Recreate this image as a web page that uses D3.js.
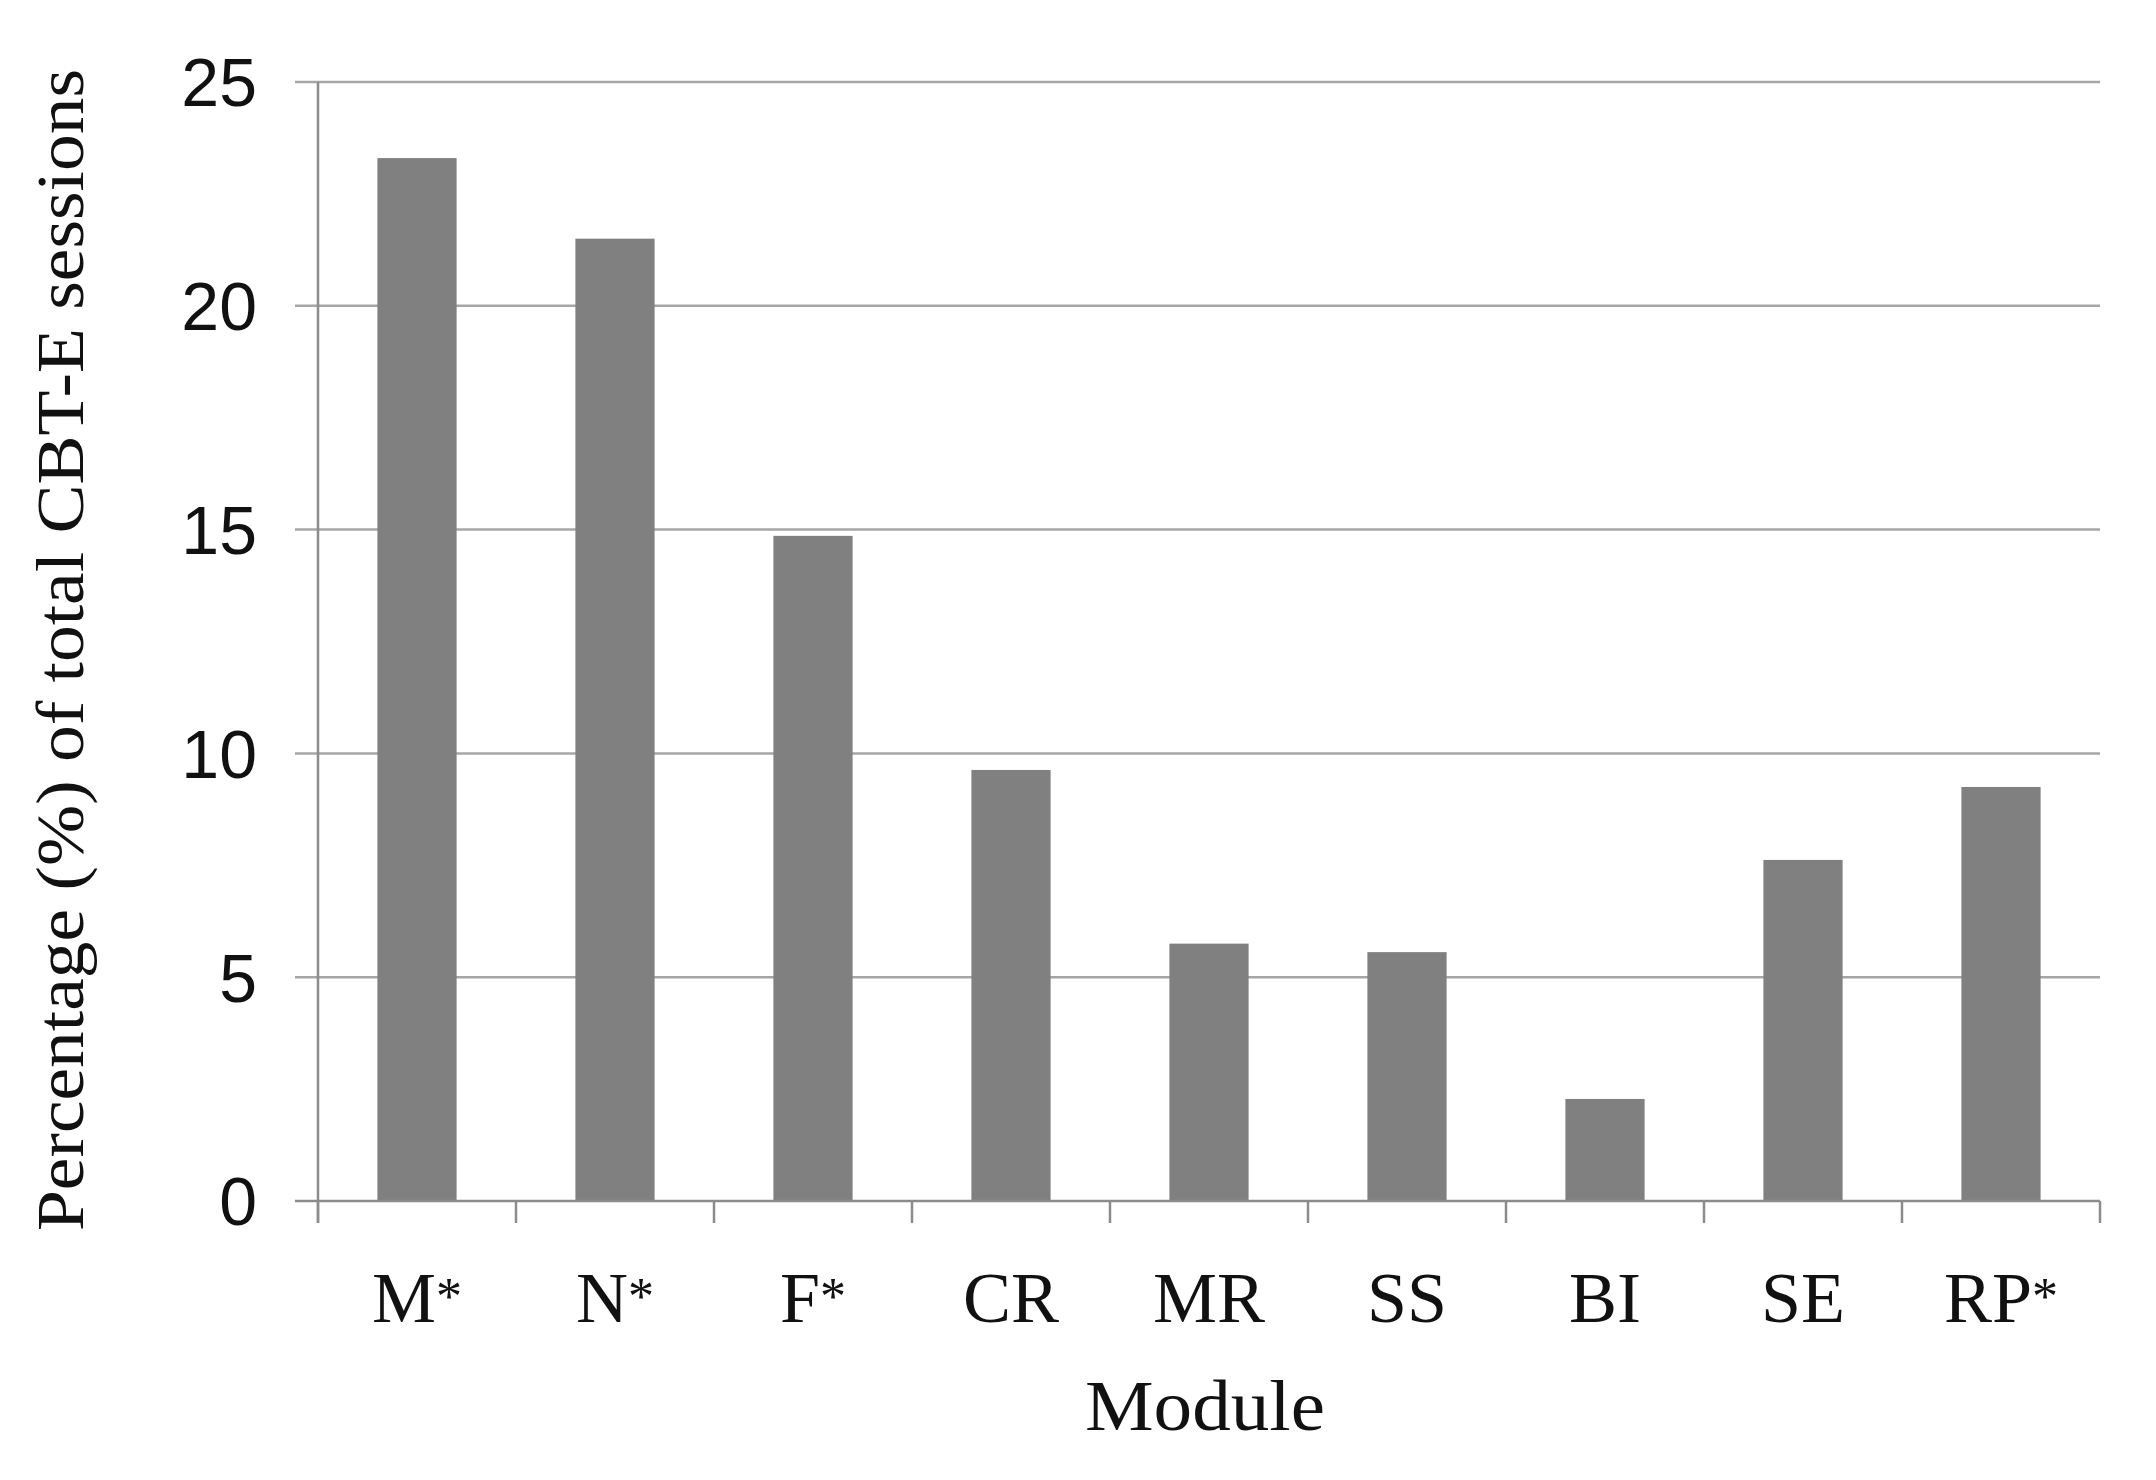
<!DOCTYPE html>
<html>
<head>
<meta charset="utf-8">
<script src="https://cdn.jsdelivr.net/npm/d3@7"></script>
<style>
  html, body { margin: 0; padding: 0; background: #fff; }
  svg { display: block; }
</style>
</head>
<body>
<svg id="chart" width="2156" height="1480"></svg>
<script>
const categories = ["M*", "N*", "F*", "CR", "MR", "SS", "BI", "SE", "RP*"];
const values = [23.3, 21.5, 14.86, 9.63, 5.75, 5.56, 2.28, 7.62, 9.25];
const yTicks = [0, 5, 10, 15, 20, 25];
const yTitle = "Percentage (%) of total CBT-E sessions";
const xTitle = "Module";

(function () {
const svg = d3.select("#chart");
const plotLeft = 318, plotRight = 2100, plotTop = 82, plotBottom = 1201;

const x = d3.scaleBand().domain(categories).range([plotLeft, plotRight])
  .paddingInner(0.6).paddingOuter(0.3);
const y = d3.scaleLinear().domain([0, 25]).range([plotBottom, plotTop]);

// gridlines
svg.append("g").selectAll("line").data(yTicks.filter(d => d > 0)).join("line")
  .attr("x1", plotLeft - 23).attr("x2", plotRight)
  .attr("y1", d => y(d)).attr("y2", d => y(d))
  .attr("stroke", "#a6a6a6").attr("stroke-width", 2.5);

// bars
svg.append("g").selectAll("rect").data(values).join("rect")
  .attr("x", (d, i) => x(categories[i]))
  .attr("width", x.bandwidth())
  .attr("y", d => y(d))
  .attr("height", d => y(0) - y(d))
  .attr("fill", "#808080");

// y axis line
svg.append("line").attr("x1", plotLeft).attr("x2", plotLeft)
  .attr("y1", plotTop).attr("y2", plotBottom + 22)
  .attr("stroke", "#8c8c8c").attr("stroke-width", 2.5);

// x axis baseline
svg.append("line").attr("x1", plotLeft - 23).attr("x2", plotRight)
  .attr("y1", y(0)).attr("y2", y(0))
  .attr("stroke", "#8c8c8c").attr("stroke-width", 2.5);

// x tick marks at category boundaries
const step = x.step();
const bounds = d3.range(categories.length + 1).map(i => plotLeft + i * step);
svg.append("g").selectAll("line").data(bounds).join("line")
  .attr("x1", d => d).attr("x2", d => d)
  .attr("y1", y(0)).attr("y2", y(0) + 22)
  .attr("stroke", "#8c8c8c").attr("stroke-width", 2.5);

// y tick labels
svg.append("g").selectAll("text").data(yTicks).join("text")
  .attr("x", 257).attr("y", d => y(d))
  .attr("dy", "0.36em")
  .attr("text-anchor", "end")
  .attr("font-family", "Liberation Sans, Arial, sans-serif")
  .attr("font-size", 68)
  .attr("fill", "#111")
  .text(d => d);

// x tick labels (asterisk drawn smaller, raised)
const xl = svg.append("g").selectAll("text").data(categories).join("text")
  .attr("x", d => x(d) + x.bandwidth() / 2)
  .attr("y", 1322)
  .attr("text-anchor", "middle")
  .attr("font-family", "Liberation Serif, Times New Roman, serif")
  .attr("font-size", 72)
  .attr("fill", "#111");
xl.append("tspan").text(d => d.replace("*", ""));
xl.filter(d => d.endsWith("*")).append("tspan")
  .attr("font-size", 52).attr("dy", -8).text("*");

// x title
svg.append("text")
  .attr("x", (plotLeft + plotRight) / 2 - 4).attr("y", 1430)
  .attr("text-anchor", "middle")
  .attr("font-family", "Liberation Serif, Times New Roman, serif")
  .attr("font-size", 72)
  .attr("textLength", 240)
  .attr("lengthAdjust", "spacingAndGlyphs")
  .attr("fill", "#111")
  .text(xTitle);

// y title
svg.append("text")
  .attr("transform", "translate(83,650) rotate(-90)")
  .attr("text-anchor", "middle")
  .attr("font-family", "Liberation Serif, Times New Roman, serif")
  .attr("font-size", 68)
  .attr("textLength", 1162)
  .attr("lengthAdjust", "spacingAndGlyphs")
  .attr("fill", "#111")
  .text(yTitle);
})();
</script>
</body>
</html>
